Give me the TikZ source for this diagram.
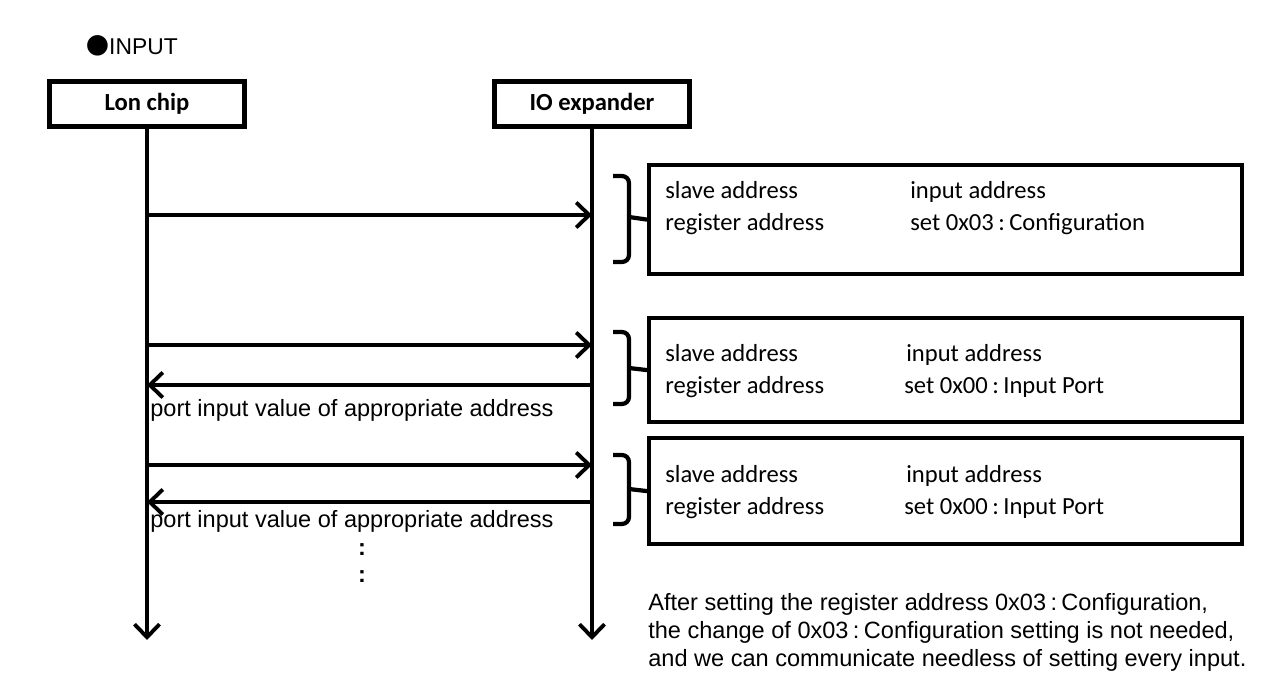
\documentclass[tikz,border=0pt]{standalone}
\usepackage{fontspec}
\setmainfont{Carlito}
\newfontfamily\jp{Noto Sans CJK JP}
\newfontfamily\arial{Liberation Sans}
\usepackage{tikz}
\usetikzlibrary{positioning, arrows.meta}

\newcommand{\colsep}{\kern2.5pt:\kern2.5pt}

\begin{document}
\begin{tikzpicture}[
			x=0.02cm, y=-0.02cm,
			head/.style={rectangle, draw, line width=2.4pt, minimum width=3.9cm, minimum height=0.9cm, font=\bfseries\fontsize{14}{16}\selectfont},
			infobox/.style={rectangle, draw, line width=2.4pt, minimum width=11.86cm, anchor=north west},
			boxtext/.style={anchor=base west, inner sep=0pt, font=\fontsize{14}{16}\selectfont},
			msgtext/.style={anchor=base west, inner sep=0pt, font=\arial\fontsize{13.4}{15}\selectfont},
			life/.style={line width=2.2pt, -{Straight Barb[length=0.26cm, width=0.5cm]}},
			msg/.style={line width=2.2pt, -{Straight Barb[length=0.26cm, width=0.5cm]}},
			brace/.style={line width=2.4pt, rounded corners=4pt}
			]
			\useasboundingbox (0,0) rectangle (1269,676);
			
			% Title
			\node (title) [anchor=west, inner sep=0pt] at (86,46) {{\jp\fontsize{13}{15}\selectfont ●}{\arial\fontsize{13}{15}\selectfont INPUT}};
			
			% Lifeline heads
			\node (lon) [head] at (147,104) {Lon chip};
			\node (io) [head] at (592,104) {IO expander};
			\coordinate (lonEnd) at (147,640);
			\coordinate (ioEnd) at (592,640);
			
			% Boxes
			\node (cfgbox) [infobox, minimum height=2.18cm] at (647,163) {};
			\node (readbox1) [infobox, minimum height=2.08cm] at (647,316) {};
			\node (readbox2) [infobox, minimum height=2.12cm] at (647,436) {};
			
			% Box texts
			\node (cfgA) [boxtext] at (665,198) {slave address};
			\node (cfgB) [boxtext] at (665,230) {register address};
			\node (cfgC) [boxtext] at (910,198) {input address};
			\node (cfgD) [boxtext] at (910,230) {set 0x03\colsep Configuration};
			
			\node (rdA) [boxtext] at (665,361) {slave address};
			\node (rdB) [boxtext] at (665,393) {register address};
			\node (rdC) [boxtext] at (906,361) {input address};
			\node (rdD) [boxtext] at (904,393) {set 0x00\colsep Input Port};
			
			\node (rdE) [boxtext] at (665,482) {slave address};
			\node (rdF) [boxtext] at (665,514) {register address};
			\node (rdG) [boxtext] at (906,482) {input address};
			\node (rdH) [boxtext] at (904,514) {set 0x00\colsep Input Port};
			
			% Message points
			\coordinate (l1) at (147,215);
			\coordinate (i1) at (592,215);
			\coordinate (l2) at (147,345);
			\coordinate (i2) at (592,345);
			\coordinate (l3) at (147,385);
			\coordinate (i3) at (592,385);
			\coordinate (l4) at (147,465);
			\coordinate (i4) at (592,465);
			\coordinate (l5) at (147,502);
			\coordinate (i5) at (592,502);
			
			% Lifelines
			\draw [life] (lon) -- (lonEnd);
			\draw [life] (io) -- (ioEnd);
			
			% Messages
			\draw [msg] (l1) -- (i1);
			\draw [msg] (l2) -- (i2);
			\draw [msg] (i3) -- (l3);
			\draw [msg] (l4) -- (i4);
			\draw [msg] (i5) -- (l5);
			
			\node (ret1) [msgtext] at (150,416) {port input value of appropriate address};
			\node (ret2) [msgtext] at (150,527) {port input value of appropriate address};
			\node (dots1) [msgtext, anchor=center, font=\arial\bfseries\fontsize{13.4}{15}\selectfont] at (362,550) {:};
			\node (dots2) [msgtext, anchor=center, font=\arial\bfseries\fontsize{13.4}{15}\selectfont] at (362,577) {:};
			
			% Brackets
			\draw [brace] (613,176) -- (629,176) -- (629,262) -- (613,262);
			\draw [brace] (629,217) -- (cfgbox.west);
			\draw [brace] (613,332) -- (629,332) -- (629,404) -- (613,404);
			\draw [brace] (629,368) -- (readbox1.west);
			\draw [brace] (613,455) -- (629,455) -- (629,524) -- (613,524);
			\draw [brace] (629,489) -- (readbox2.west);
			
			% Note
			\node (note) [anchor=west, align=left, inner sep=0pt, font=\arial\fontsize{13.4}{15.9}\selectfont] at (648,632) {After setting the register address 0x03\colsep Configuration,\\the change of 0x03\colsep Configuration setting is not needed,\\and we can communicate needless of setting every input.};
		\end{tikzpicture}
\end{document}
